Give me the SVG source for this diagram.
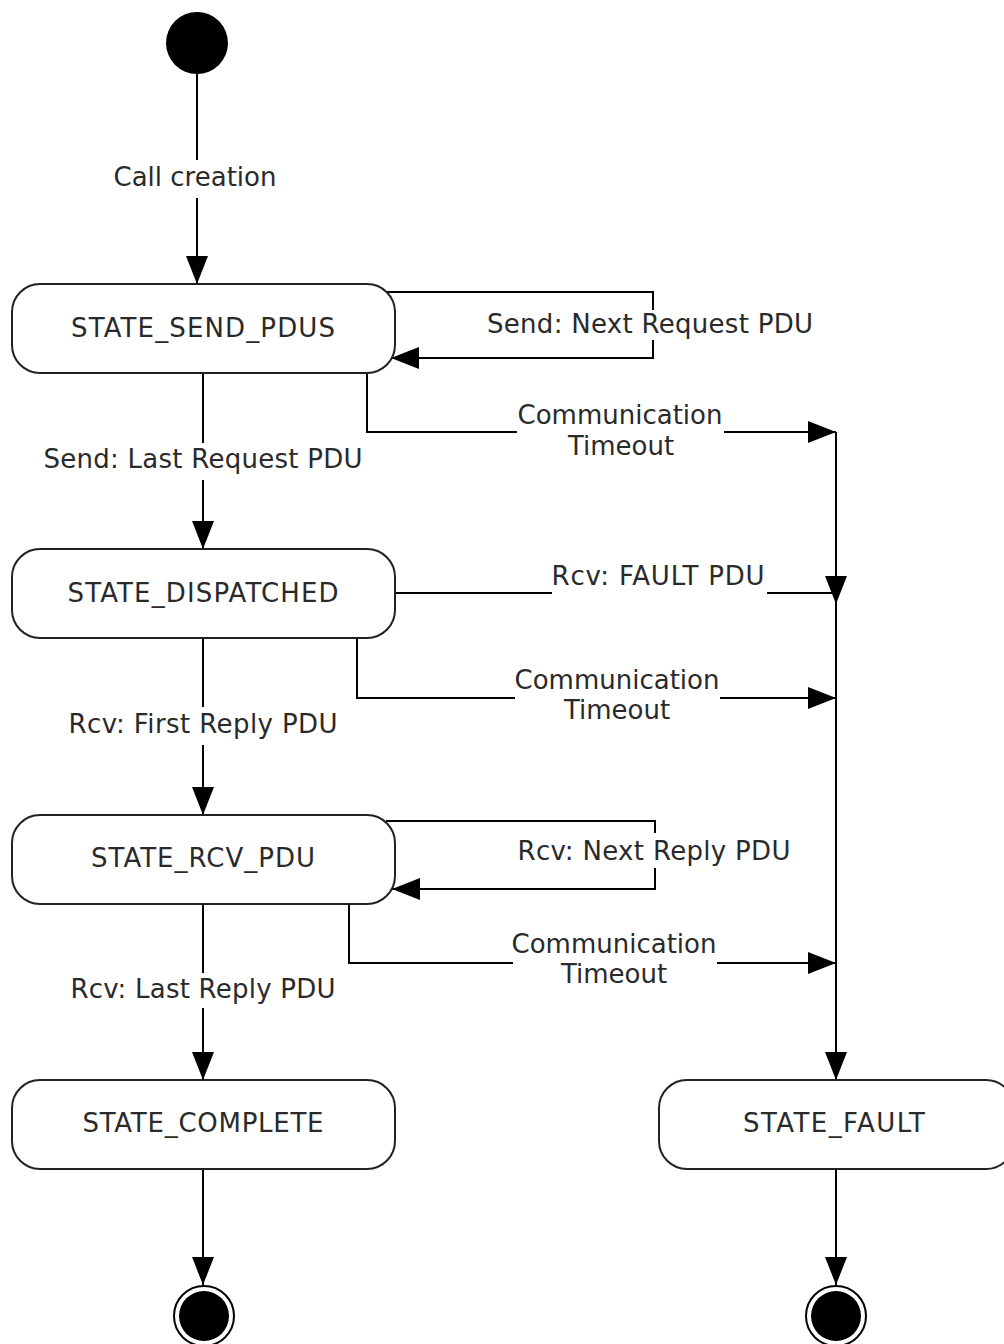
<svg xmlns="http://www.w3.org/2000/svg" width="1004" height="1344" viewBox="0 0 1004 1344">
<defs>
<marker id="arr" markerWidth="28" markerHeight="22" refX="28" refY="11" orient="auto" markerUnits="userSpaceOnUse"><path d="M0,0 L28,11 L0,22 Z" fill="#000"/></marker>
<style>
.node{fill:#fff;stroke:#222;stroke-width:2}
.ln{fill:none;stroke:#000;stroke-width:2}
.ar{fill:none;stroke:#000;stroke-width:2;marker-end:url(#arr)}
text{font-family:"DejaVu Sans","Verdana",sans-serif;font-size:26px;fill:#2a2a2a;text-anchor:middle}
</style>
</defs>
<rect width="1004" height="1344" fill="#fff"/>
<g id="connectors">
<path class="ln" d="M197,73 V160"/>
<path class="ar" d="M197,198 V284"/>
<path class="ln" d="M386,292 H653 V310"/>
<path class="ar" d="M653,340 V358 H391"/>
<path class="ln" d="M367,373 V432 H517"/>
<path class="ar" d="M724,432 H836"/>
<path class="ln" d="M203,373 V443"/>
<path class="ar" d="M203,480 V549"/>
<path class="ln" d="M395,593 H552"/>
<path class="ar" d="M767,593 H836 V604"/>
<path class="ln" d="M357,638 V698 H515"/>
<path class="ar" d="M720,698 H836"/>
<path class="ln" d="M203,638 V707"/>
<path class="ar" d="M203,745 V815"/>
<path class="ln" d="M386,821 H655 V833"/>
<path class="ar" d="M655,868 V889 H392"/>
<path class="ln" d="M349,904 V963 H513"/>
<path class="ar" d="M717,963 H836"/>
<path class="ln" d="M203,904 V973"/>
<path class="ar" d="M203,1008 V1080"/>
<path class="ar" d="M836,432 V1080"/>
<path class="ar" d="M203,1169 V1285"/>
<path class="ar" d="M836,1169 V1285"/>
<text x="195" y="186">Call creation</text>
<text x="650" y="333" textLength="326" lengthAdjust="spacing">Send: Next Request PDU</text>
<text x="620" y="424">Communication</text>
<text x="621" y="455">Timeout</text>
<text x="203" y="468" textLength="319" lengthAdjust="spacing">Send: Last Request PDU</text>
<text x="658" y="585" textLength="213" lengthAdjust="spacing">Rcv: FAULT PDU</text>
<text x="617" y="689">Communication</text>
<text x="617" y="719">Timeout</text>
<text x="203" y="733" textLength="269" lengthAdjust="spacing">Rcv: First Reply PDU</text>
<text x="654" y="860" textLength="273" lengthAdjust="spacing">Rcv: Next Reply PDU</text>
<text x="614" y="953">Communication</text>
<text x="614" y="983">Timeout</text>
<text x="203" y="998" textLength="265" lengthAdjust="spacing">Rcv: Last Reply PDU</text>
</g>
<g id="start"><circle cx="197" cy="43" r="31" fill="#000"/></g>
<g id="state_send_pdus"><rect class="node" x="12" y="284" width="383" height="89" rx="28" ry="28"/><text x="203" y="337" textLength="264" lengthAdjust="spacing">STATE_SEND_PDUS</text></g>
<g id="state_dispatched"><rect class="node" x="12" y="549" width="383" height="89" rx="28" ry="28"/><text x="203" y="602" textLength="271" lengthAdjust="spacing">STATE_DISPATCHED</text></g>
<g id="state_rcv_pdu"><rect class="node" x="12" y="815" width="383" height="89" rx="28" ry="28"/><text x="203" y="867" textLength="224" lengthAdjust="spacing">STATE_RCV_PDU</text></g>
<g id="state_complete"><rect class="node" x="12" y="1080" width="383" height="89" rx="28" ry="28"/><text x="203" y="1132" textLength="241" lengthAdjust="spacing">STATE_COMPLETE</text></g>
<g id="state_fault"><rect class="node" x="659" y="1080" width="355" height="89" rx="28" ry="28"/><text x="834" y="1132" textLength="182" lengthAdjust="spacing">STATE_FAULT</text></g>
<g id="end_complete"><circle cx="204" cy="1316" r="30" fill="#fff" stroke="#000" stroke-width="2"/><circle cx="204" cy="1316" r="25" fill="#000"/></g>
<g id="end_fault"><circle cx="836" cy="1316" r="30" fill="#fff" stroke="#000" stroke-width="2"/><circle cx="836" cy="1316" r="25" fill="#000"/></g>
</svg>
